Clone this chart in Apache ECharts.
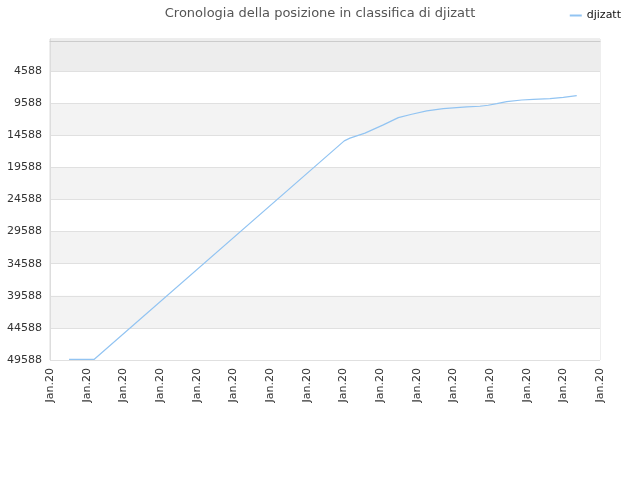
<!DOCTYPE html>
<html>
<head>
  <meta http-equiv="Content-Type" content="text/html; charset=utf-8"/>
  <title>Cronologia della posizione</title>
  <script src="https://cdn.jsdelivr.net/npm/echarts@6/dist/echarts.min.js"></script>
</head>
<body style="margin:0">
<div id="chart" style="width:640px;height:480px;"></div>
<script type="text/javascript">
// days into the month (x) and rank (y)
var days = [1.04, 2.4, 16.05, 16.36, 17.18, 18.18, 19.0, 19.73, 20.55, 21.45, 22.73,
            23.45, 23.9, 24.37, 24.91, 25.73, 26.36, 27.27, 28.0, 28.73];
var ranks = [49500, 49500, 15450, 15031, 14255, 12967, 11835, 11307, 10795, 10438, 10174,
             10065, 9910, 9662, 9352, 9088, 8979, 8886, 8669, 8421];
var tickLabel = 'Jan.20';
var seriesName = 'djizatt';

var points = [];
for (var i = 0; i < days.length; i++) {
  points.push([days[i], ranks[i]]);
}

var chart = echarts.init(document.getElementById('chart'));
chart.setOption({
  animation: false,
  title: {
    text: 'Cronologia della posizione in classifica di djizatt',
    left: 'center',
    top: 2,
    textStyle: {fontFamily: 'DejaVu Sans', fontSize: 13, fontWeight: 'normal', color: '#555'}
  },
  legend: {
    right: 14,
    top: 5,
    itemWidth: 12,
    itemHeight: 2,
    icon: 'rect',
    textStyle: {fontFamily: 'DejaVu Sans', fontSize: 11, color: '#111'},
    data: [seriesName]
  },
  grid: {left: 50, right: 40, top: 39, bottom: 120, show: true, borderColor: '#ddd', borderWidth: 1},
  xAxis: {
    type: 'value',
    min: 0,
    max: 30,
    interval: 2,
    axisLine: {lineStyle: {color: '#ccc'}},
    axisTick: {show: false},
    splitLine: {show: false},
    axisLabel: {
      rotate: 90,
      fontFamily: 'DejaVu Sans',
      fontSize: 11,
      color: '#333',
      formatter: function () { return tickLabel; }
    }
  },
  yAxis: {
    type: 'value',
    inverse: true,
    min: -412,
    max: 49588,
    interval: 5000,
    axisLine: {show: true, lineStyle: {color: '#ddd'}},
    axisTick: {show: false},
    splitLine: {show: true, lineStyle: {color: ['rgba(0,0,0,0)', '#e0e0e0', '#e0e0e0', '#e0e0e0',
                                                 '#e0e0e0', '#e0e0e0', '#e0e0e0', '#e0e0e0',
                                                 '#e0e0e0', '#e0e0e0', '#e0e0e0']}},
    splitArea: {
      show: true,
      areaStyle: {color: ['#ededed', '#fff', '#f3f3f3', '#fff', '#f3f3f3', '#fff',
                          '#f3f3f3', '#fff', '#f3f3f3', '#fff']}
    },
    axisLabel: {
      fontFamily: 'DejaVu Sans',
      fontSize: 11,
      color: '#333',
      formatter: function (v) { return v < 0 ? '' : String(v); }
    }
  },
  series: [{
    name: seriesName,
    type: 'line',
    data: points,
    showSymbol: false,
    itemStyle: {color: '#92c4f2'},
    lineStyle: {width: 1.2, color: '#92c4f2'}
  }]
});
</script>
</body>
</html>
